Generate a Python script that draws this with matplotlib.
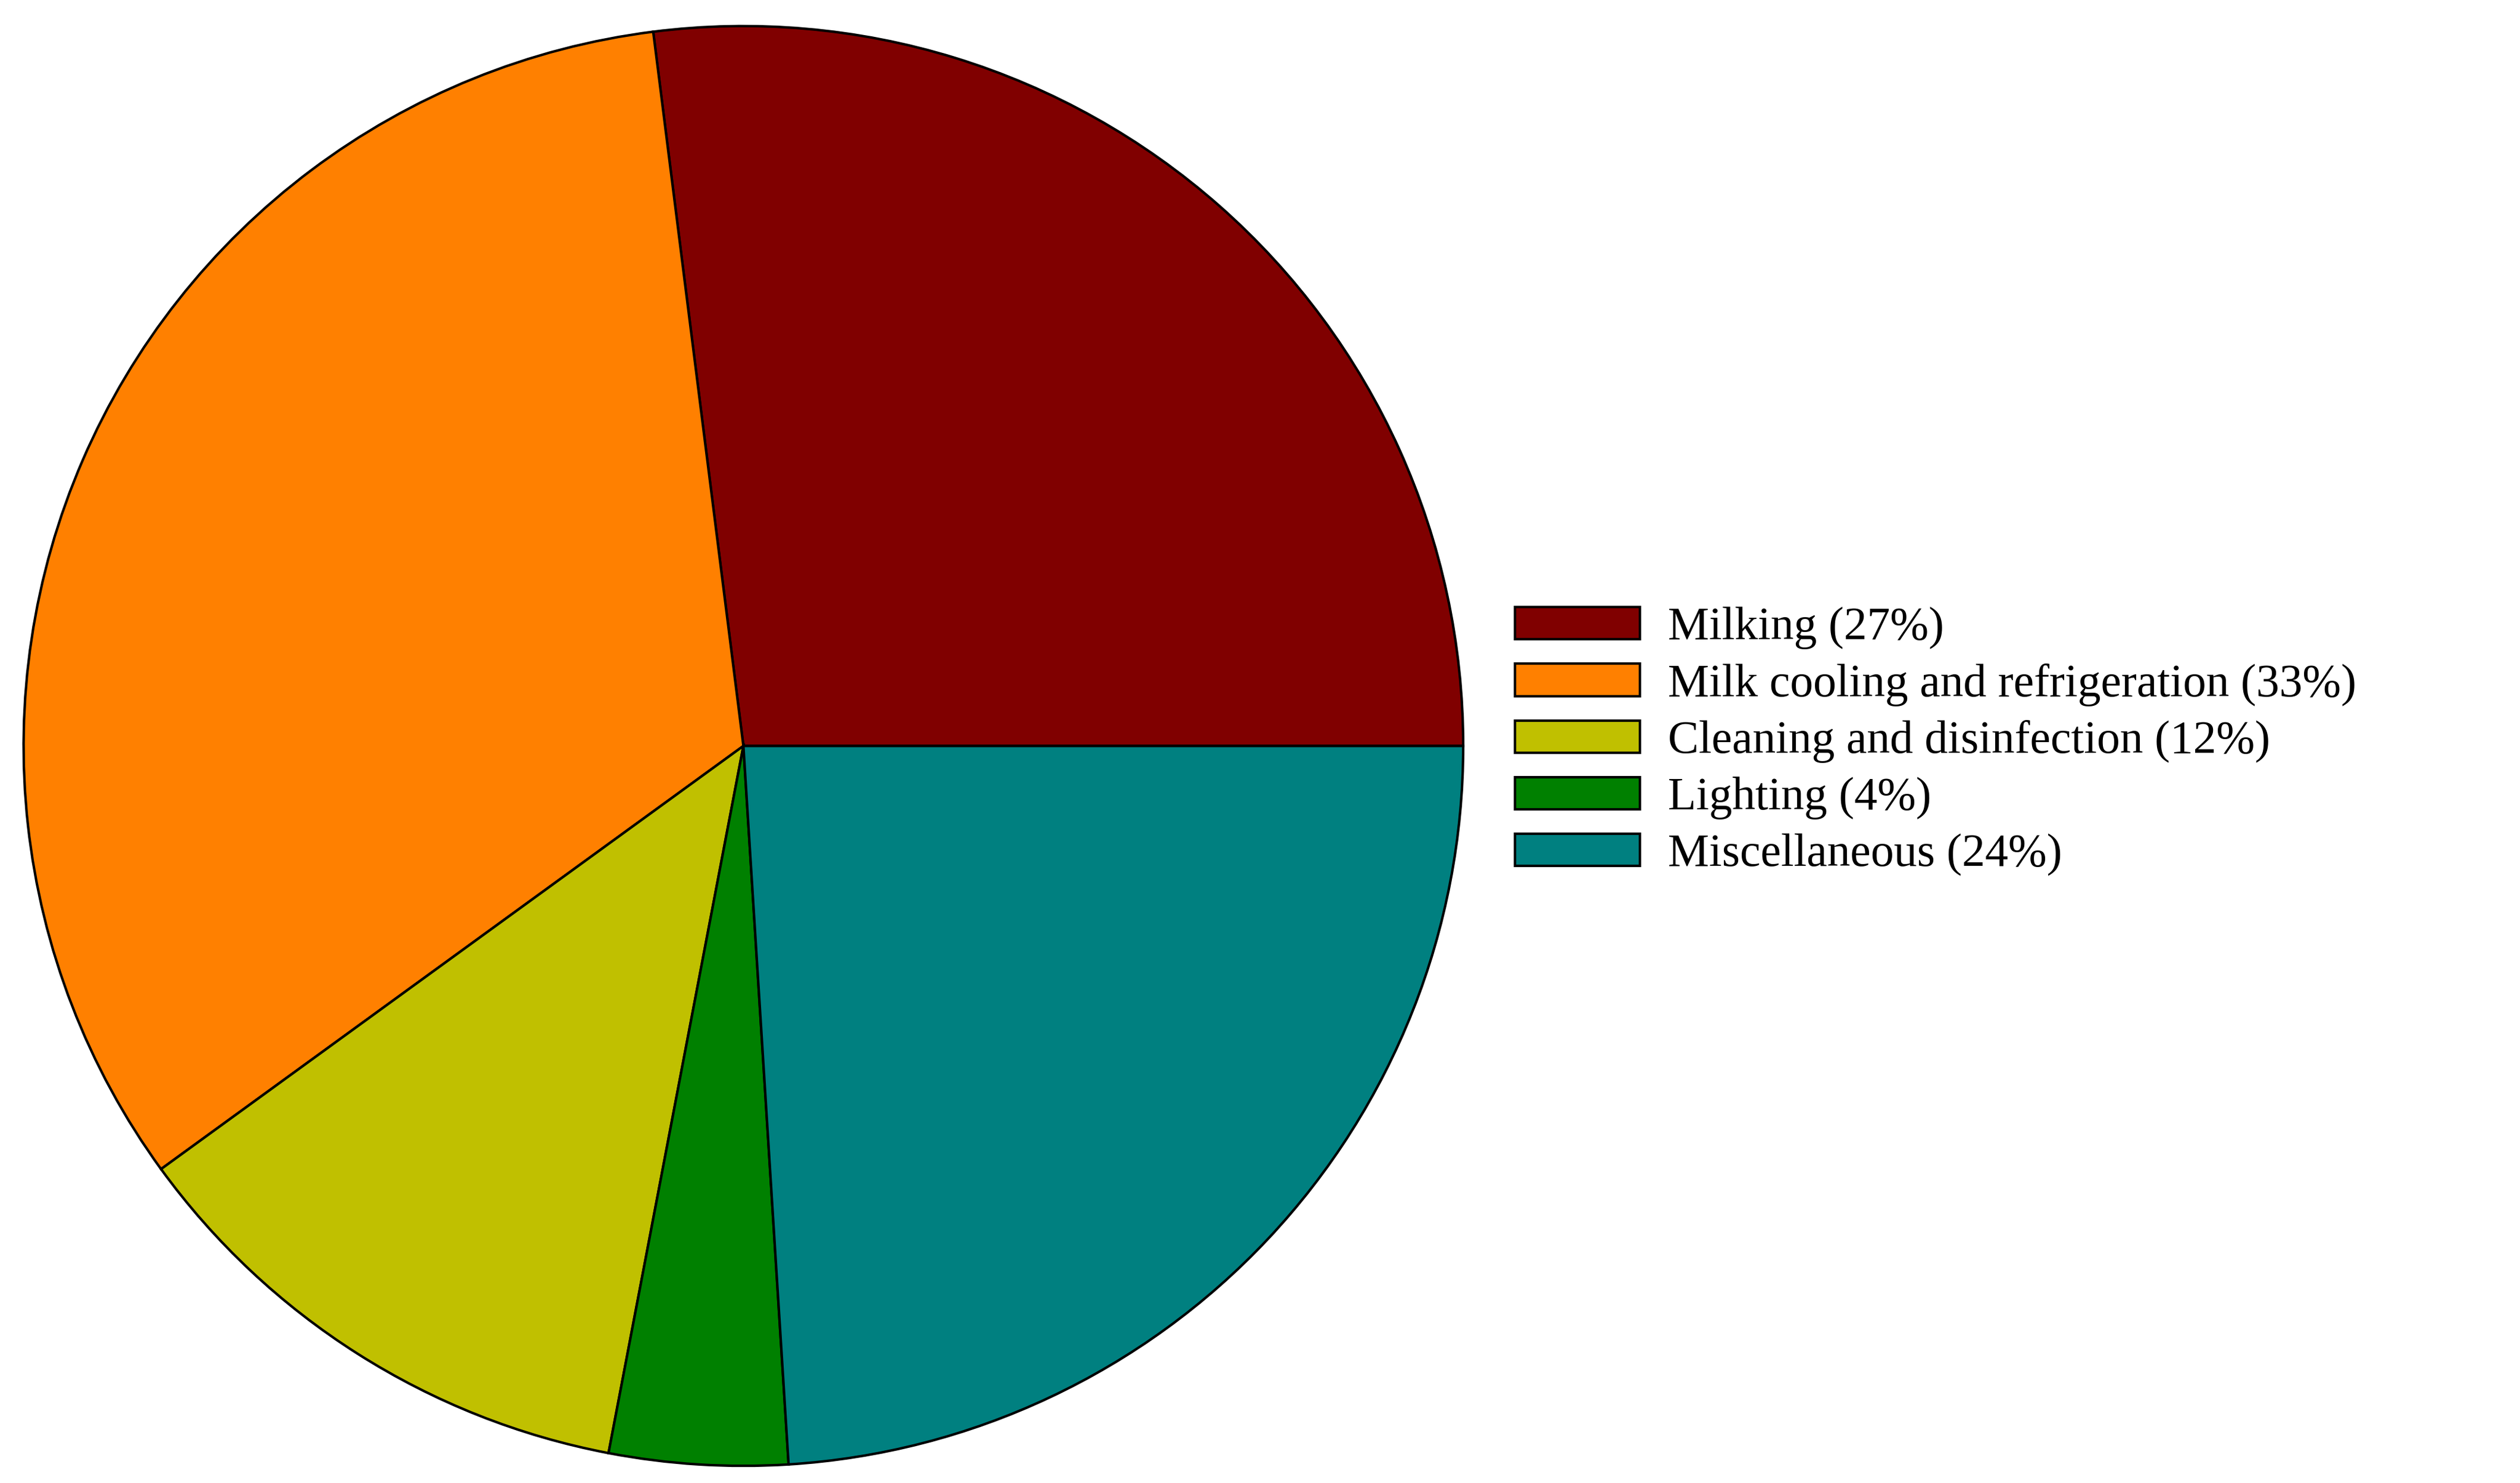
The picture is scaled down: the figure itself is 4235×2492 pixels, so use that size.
import matplotlib
matplotlib.use("Agg")
import matplotlib.pyplot as plt

plt.rcParams['font.family'] = ['Liberation Serif', 'DejaVu Serif']

labels = ["Milking", "Milk cooling and refrigeration", "Cleaning and disinfection",
          "Lighting", "Miscellaneous"]
shares = [27, 33, 12, 4, 24]
colors = ["#800000", "#FF8000", "#C0C000", "#008000", "#008080"]

fig = plt.figure(figsize=(42.35, 24.92), dpi=100)
ax = fig.add_axes([0.0065, 0.0065, 0.577, 0.981])
wedges, _ = ax.pie(shares, colors=colors, startangle=0, counterclock=True,
                   wedgeprops=dict(edgecolor="black", linewidth=3))
ax.set_xlim(-1.01, 1.01)
ax.set_ylim(-1.01, 1.01)
ax.set_aspect("equal")
ax.axis("off")

fig.legend(wedges, [f"{l} ({s}%)" for l, s in zip(labels, shares)],
           loc="center left", bbox_to_anchor=(0.592, 0.5), frameon=False,
           fontsize=56, handlelength=2.7, handleheight=0.7, labelspacing=0.3,
           handletextpad=0.6, borderpad=0)

fig.savefig("out.png", dpi=100, facecolor="white")
